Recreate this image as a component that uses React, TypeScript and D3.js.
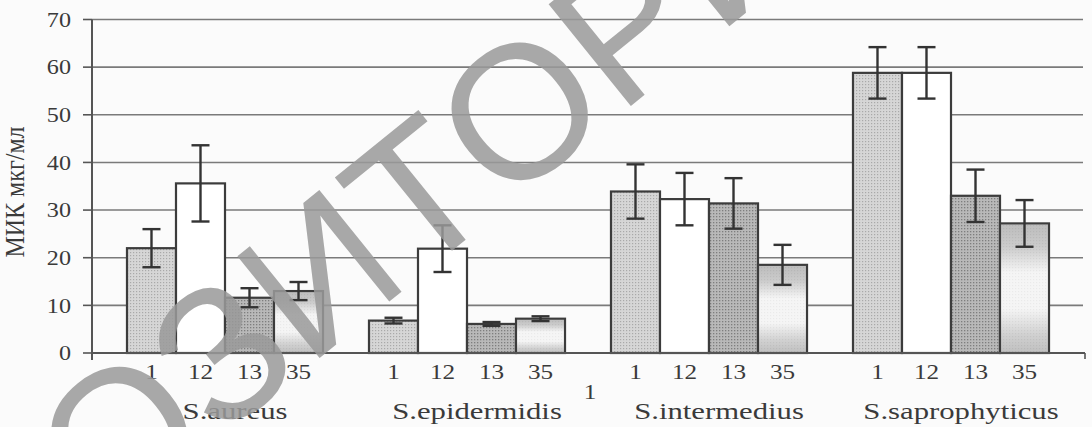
import React from 'react';
import * as d3 from 'd3';

const groups = ['S.aureus', 'S.epidermidis', 'S.intermedius', 'S.saprophyticus'];
const strains = ['1', '12', '13', '35'];
const aureusMic = [22, 35.6, 11.6, 13.0];
const aureusErr = [4, 8, 2, 1.9];
const epidermidisMic = [6.8, 21.9, 6.1, 7.2];
const epidermidisErr = [0.6, 4.9, 0.4, 0.5];
const intermediusMic = [33.9, 32.3, 31.4, 18.5];
const intermediusErr = [5.7, 5.5, 5.3, 4.2];
const saprophyticusMic = [58.8, 58.8, 33.0, 27.2];
const saprophyticusErr = [5.4, 5.4, 5.5, 4.9];
const yTicks = [0, 10, 20, 30, 40, 50, 60, 70];
const yLabel = 'МИК мкг/мл';
const watermarkHead = 'РЕПОЗИТ';
const watermarkTail = 'ОРИЙ';

const micByGroup = [aureusMic, epidermidisMic, intermediusMic, saprophyticusMic];
const errByGroup = [aureusErr, epidermidisErr, intermediusErr, saprophyticusErr];

const W = 1092;
const H = 427;
const left = 92;
const right = 1083;
const top = 19.5;
const bottom = 353;
const serif = '"Liberation Serif", "Times New Roman", serif';

export default function App() {
  const y = d3.scaleLinear().domain([0, 70]).range([bottom, top]);
  const x0 = d3.scaleBand<string>().domain(groups).range([104, 1072]).paddingInner(0.19).paddingOuter(0.095);
  const x1 = d3.scaleBand<string>().domain(strains).range([0, x0.bandwidth()]).padding(0);
  const fills = ['url(#dotsA)', '#ffffff', 'url(#dotsB)', 'url(#grad35)'];

  return (
    <svg width={W} height={H} style={{ position: 'absolute', left: 0, top: 0, background: '#fbfbfb' }}>
      <defs>
        <pattern id="dotsA" width="3" height="3" patternUnits="userSpaceOnUse">
          <rect width="3" height="3" fill="#d6d6d6" />
          <rect width="1.2" height="1.2" fill="#a9a9a9" />
        </pattern>
        <pattern id="dotsB" width="3" height="3" patternUnits="userSpaceOnUse">
          <rect width="3" height="3" fill="#b9b9b9" />
          <rect width="1.3" height="1.3" fill="#7e7e7e" />
        </pattern>
        <linearGradient id="grad35" x1="0" y1="0" x2="0" y2="1">
          <stop offset="0" stopColor="#b4b4b4" />
          <stop offset="0.18" stopColor="#c8c8c8" />
          <stop offset="0.38" stopColor="#ffffff" />
          <stop offset="0.66" stopColor="#ffffff" />
          <stop offset="0.86" stopColor="#cfcfcf" />
          <stop offset="1" stopColor="#b8b8b8" />
        </linearGradient>
      </defs>

      {/* grid lines */}
      {yTicks.filter(t => t > 0).map(t => (
        <line key={'g' + t} x1={left} x2={right} y1={y(t)} y2={y(t)} stroke="#7a7a7a" strokeWidth={1.6} />
      ))}

      {/* y axis */}
      <line x1={left} x2={left} y1={top} y2={bottom + 7} stroke="#555" strokeWidth={2} />
      {yTicks.map(t => (
        <g key={'t' + t}>
          <line x1={left - 9} x2={left} y1={y(t)} y2={y(t)} stroke="#555" strokeWidth={1.6} />
          <text transform={`translate(71,${y(t)}) scale(1.15,1)`} textAnchor="end" dy="0.35em"
            fontFamily={serif} fontSize={21} fill="#3a3a3a">{t}</text>
        </g>
      ))}

      {/* y label */}
      <g transform={`translate(24,192) rotate(-90) scale(1,1.15)`}>
        <text textAnchor="middle" fontFamily={serif} fontSize={24} fill="#3a3a3a">{yLabel}</text>
      </g>

      {/* bars */}
      {groups.map((g, gi) => (
        <g key={g} transform={`translate(${x0(g)},0)`}>
          {strains.map((s, si) => {
            const v = micByGroup[gi][si];
            const e = errByGroup[gi][si];
            const bx = x1(s)!;
            const bw = x1.bandwidth();
            const cx = bx + bw / 2;
            return (
              <g key={s}>
                <rect x={bx} y={y(v)} width={bw} height={bottom - y(v)} fill={fills[si]}
                  stroke="#3c3c3c" strokeWidth={2.2} />
                {si === 3 && (
                  <rect x={bx + 1} y={y(v) + 1} width={bw - 2} height={Math.max(0, bottom - y(v) - 2)}
                    fill="url(#dotsA)" opacity={0.25} />
                )}
                <line x1={cx} x2={cx} y1={y(v + e)} y2={y(v - e)} stroke="#333" strokeWidth={2.4} />
                <line x1={cx - 9} x2={cx + 9} y1={y(v + e)} y2={y(v + e)} stroke="#333" strokeWidth={2.4} />
                <line x1={cx - 9} x2={cx + 9} y1={y(v - e)} y2={y(v - e)} stroke="#333" strokeWidth={2.4} />
                <text transform={`translate(${cx},379) scale(1.2,1)`} textAnchor="middle"
                  fontFamily={serif} fontSize={21} fill="#3a3a3a">{s}</text>
              </g>
            );
          })}
          <text transform={`translate(${x0.bandwidth() / 2 + 10},419) scale(1.28,1)`} textAnchor="middle"
            fontFamily={serif} fontSize={24} fill="#3a3a3a">{g}</text>
        </g>
      ))}

      {/* x axis */}
      <line x1={left} x2={right + 2} y1={bottom} y2={bottom} stroke="#555" strokeWidth={2} />
      <line x1={right + 2} x2={right + 2} y1={bottom} y2={bottom + 6} stroke="#555" strokeWidth={1.6} />
      <text transform={`translate(590,399) scale(1.2,1)`} textAnchor="middle" fontFamily={serif}
        fontSize={21} fill="#3a3a3a">1</text>

      {/* watermark */}
      <g transform="translate(462,157) rotate(-39)" fill="#9a9a9a" opacity={0.85}
        fontFamily='"Liberation Sans", Arial, sans-serif' fontSize={190}>
        <text textAnchor="end" dy="0.35em">{watermarkHead}</text>
        <text textAnchor="start" dy="0.35em">{watermarkTail}</text>
      </g>
    </svg>
  );
}
